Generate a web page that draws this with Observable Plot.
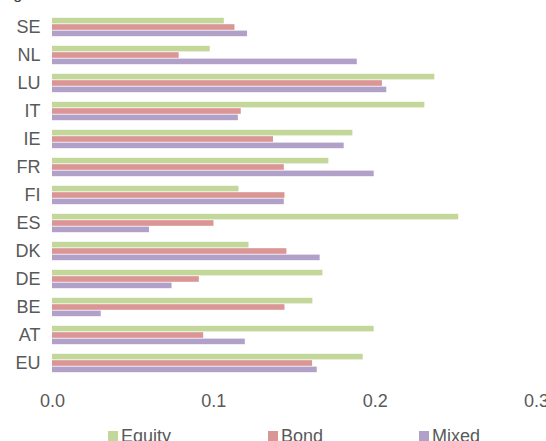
<!DOCTYPE html>
<html>
<head>
<meta charset="utf-8">
<script src="https://cdn.jsdelivr.net/npm/d3@7"></script>
<script src="https://cdn.jsdelivr.net/npm/@observablehq/plot@0.6"></script>
<style>
  html, body { margin: 0; padding: 0; background: #fff; overflow: hidden; }
  #wrap { position: relative; width: 546px; height: 441px; font-family: "Liberation Sans", Arial, sans-serif; color: #595959; }
  #title { position: absolute; left: 0; top: -14px; font-size: 16px; line-height: 16px; color: #404040; white-space: nowrap; }
  .lg { position: absolute; font-size: 18px; line-height: 18px; white-space: nowrap; }
  .sw { position: absolute; width: 10px; height: 10px; }
</style>
</head>
<body>
<div id="wrap">
  <div id="chart"></div>
  <div id="title">Figure</div>
  <div id="legend"></div>
</div>
<script>
const countries = ["SE","NL","LU","IT","IE","FR","FI","ES","DK","DE","BE","AT","EU"];
const seriesNames = ["Equity","Bond","Mixed"];
const equity = [0.1065,0.0978,0.2370,0.2308,0.1862,0.1713,0.1156,0.2518,0.1218,0.1676,0.1614,0.1994,0.1926];
const bond   = [0.1131,0.0785,0.2045,0.1170,0.1370,0.1437,0.1441,0.1001,0.1453,0.0910,0.1441,0.0937,0.1612];
const mixed  = [0.1209,0.1889,0.2072,0.1152,0.1808,0.1994,0.1437,0.0601,0.1659,0.0741,0.0302,0.1195,0.1641];
const xTicks = [0, 0.1, 0.2, 0.3];
const colors = ["#C4D79B","#DA9694","#B1A0C7"];

const seriesValues = [equity, bond, mixed];
const data = seriesNames.map((s, k) => countries.map((c, i) => ({country: c, series: s, value: seriesValues[k][i]})));

const inset = 11.2;
const offsets = [-6.4, 0, 6.4];

const chart = Plot.plot({
  width: 546,
  height: 420,
  marginLeft: 52,
  marginRight: 10,
  marginTop: 10.8,
  marginBottom: 40.8,
  style: {fontFamily: '"Liberation Sans", Arial, sans-serif', fontSize: "18px", color: "#595959", background: "transparent"},
  x: {domain: [0, 0.3]},
  y: {domain: countries, padding: 0},
  marks: [
    ...seriesNames.map((s, k) => Plot.barX(data[k], {
      x: "value", y: "country", fill: colors[k],
      insetTop: inset, insetBottom: inset, dy: offsets[k]
    })),
    Plot.axisX({ticks: xTicks, tickFormat: d3.format(".1f"), tickSize: 0, tickPadding: 15, label: null, fill: "#595959"}),
    Plot.axisY({tickSize: 0, tickPadding: 12, label: null, fill: "#595959"})
  ]
});
document.getElementById("chart").appendChild(chart);

const legend = document.getElementById("legend");
const swLeft = [108, 268, 419];
seriesNames.forEach((s, k) => {
  const sw = document.createElement("div");
  sw.className = "sw";
  sw.style.left = swLeft[k] + "px";
  sw.style.top = "431px";
  sw.style.background = colors[k];
  legend.appendChild(sw);
  const t = document.createElement("div");
  t.className = "lg";
  t.style.left = (swLeft[k] + 13) + "px";
  t.style.top = "427px";
  t.textContent = s;
  legend.appendChild(t);
});
</script>
</body>
</html>
